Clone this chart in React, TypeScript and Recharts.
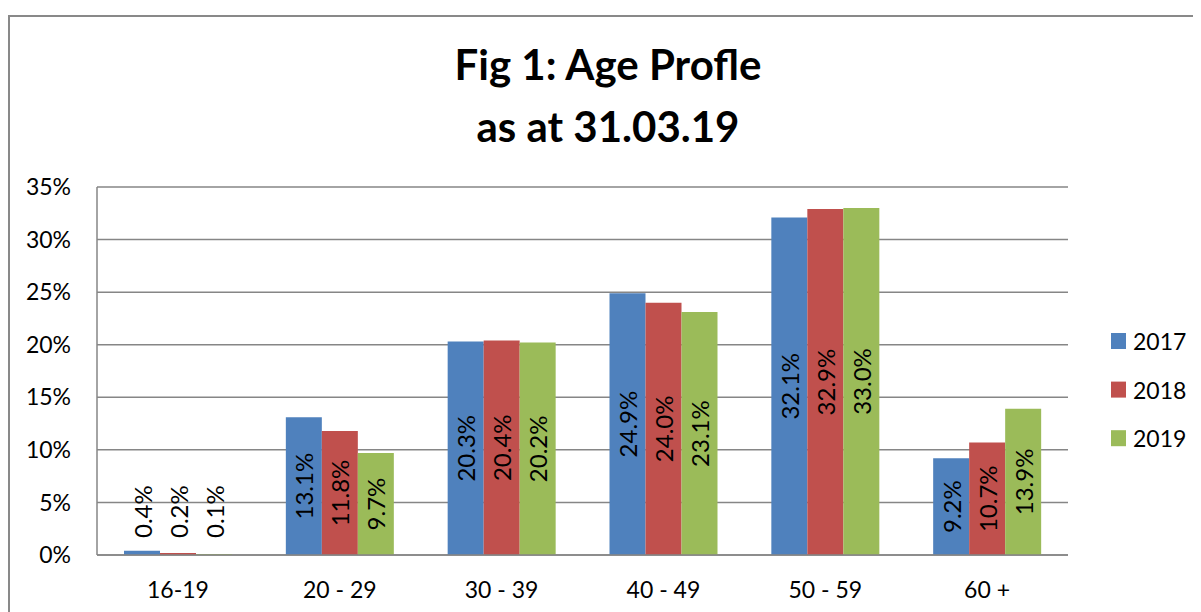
import React from 'react';
import { BarChart, Bar, XAxis, YAxis, CartesianGrid, Customized, LabelList } from 'recharts';

const categories = ['16-19', '20 - 29', '30 - 39', '40 - 49', '50 - 59', '60 +'];
const values2017 = [0.4, 13.1, 20.3, 24.9, 32.1, 9.2];
const values2018 = [0.2, 11.8, 20.4, 24.0, 32.9, 10.7];
const values2019 = [0.1, 9.7, 20.2, 23.1, 33.0, 13.9];
const yTicks = [0, 5, 10, 15, 20, 25, 30, 35];
const seriesNames = ['2017', '2018', '2019'];
const colors = ['#4F81BD', '#C0504D', '#9BBB59'];
const titleLines = ['Fig 1: Age Profle', 'as at 31.03.19'];

const data = categories.map((c, i) => ({
  cat: c,
  '2017': values2017[i],
  '2018': values2018[i],
  '2019': values2019[i],
}));

const FONT = 'Lato, "Open Sans", sans-serif';

const renderLabel = (props: any) => {
  const { x, y, width, height, value } = props;
  const cx = Number(x) + Number(width) / 2;
  const text = `${Number(value).toFixed(1)}%`;
  if (Number(height) < 70) {
    const sy = Number(y) + Number(height) - 17;
    return (
      <text
        x={cx}
        y={sy}
        transform={`rotate(-90, ${cx}, ${sy})`}
        textAnchor="start"
        dominantBaseline="central"
        fontFamily={FONT}
        fontSize={24}
        fill="#000"
      >
        {text}
      </text>
    );
  }
  const cy = Number(y) + Number(height) / 2;
  return (
    <text
      x={cx}
      y={cy}
      transform={`rotate(-90, ${cx}, ${cy})`}
      textAnchor="middle"
      dominantBaseline="central"
      fontFamily={FONT}
      fontSize={24}
      fill="#000"
    >
      {text}
    </text>
  );
};

const Title = () => (
  <g>
    <text x={598} y={63} textAnchor="middle" fontFamily={FONT} fontWeight={700} fontSize={42} fill="#000">
      {titleLines[0]}
    </text>
    <text x={598} y={125} textAnchor="middle" fontFamily={FONT} fontWeight={700} fontSize={42} fill="#000">
      {titleLines[1]}
    </text>
  </g>
);

const LegendSvg = () => (
  <g>
    {seriesNames.map((n, i) => (
      <g key={n}>
        <rect x={1101} y={316 + i * 48.6} width={15} height={16} fill={colors[i]} />
        <text
          x={1123}
          y={324 + i * 48.6}
          dominantBaseline="central"
          fontFamily={FONT}
          fontSize={23}
          fill="#000"
        >
          {n}
        </text>
      </g>
    ))}
  </g>
);

export default function App() {
  return (
    <div
      style={{
        marginTop: 7,
        width: 1195,
        height: 610,
        border: '2px solid #898989',
        boxSizing: 'border-box',
        background: '#fff',
      }}
    >
      <BarChart
        width={1191}
        height={600}
        data={data}
        margin={{ top: 170, right: 133, bottom: 22, left: 0 }}
        barGap={0}
        barCategoryGap={27}
      >
        <CartesianGrid vertical={false} stroke="#868686" strokeWidth={1.5} />
        <XAxis
          dataKey="cat"
          tickSize={0}
          tickMargin={27}
          height={40}
          axisLine={{ stroke: '#868686', strokeWidth: 1.5 }}
          tickLine={false}
          tick={{ fontFamily: FONT, fontSize: 23, fill: '#000' }}
        />
        <YAxis
          width={87}
          domain={[0, 35]}
          ticks={yTicks}
          interval={0}
          tickSize={0}
          tickMargin={26}
          tickFormatter={(v: number) => `${v}%`}
          axisLine={{ stroke: '#868686', strokeWidth: 1.5 }}
          tickLine={false}
          tick={{ fontFamily: FONT, fontSize: 23, fill: '#000' }}
        />
        {seriesNames.map((n, i) => (
          <Bar key={n} dataKey={n} fill={colors[i]} isAnimationActive={false}>
            <LabelList dataKey={n} content={renderLabel} />
          </Bar>
        ))}
        <Customized component={Title} />
        <Customized component={LegendSvg} />
      </BarChart>
    </div>
  );
}
